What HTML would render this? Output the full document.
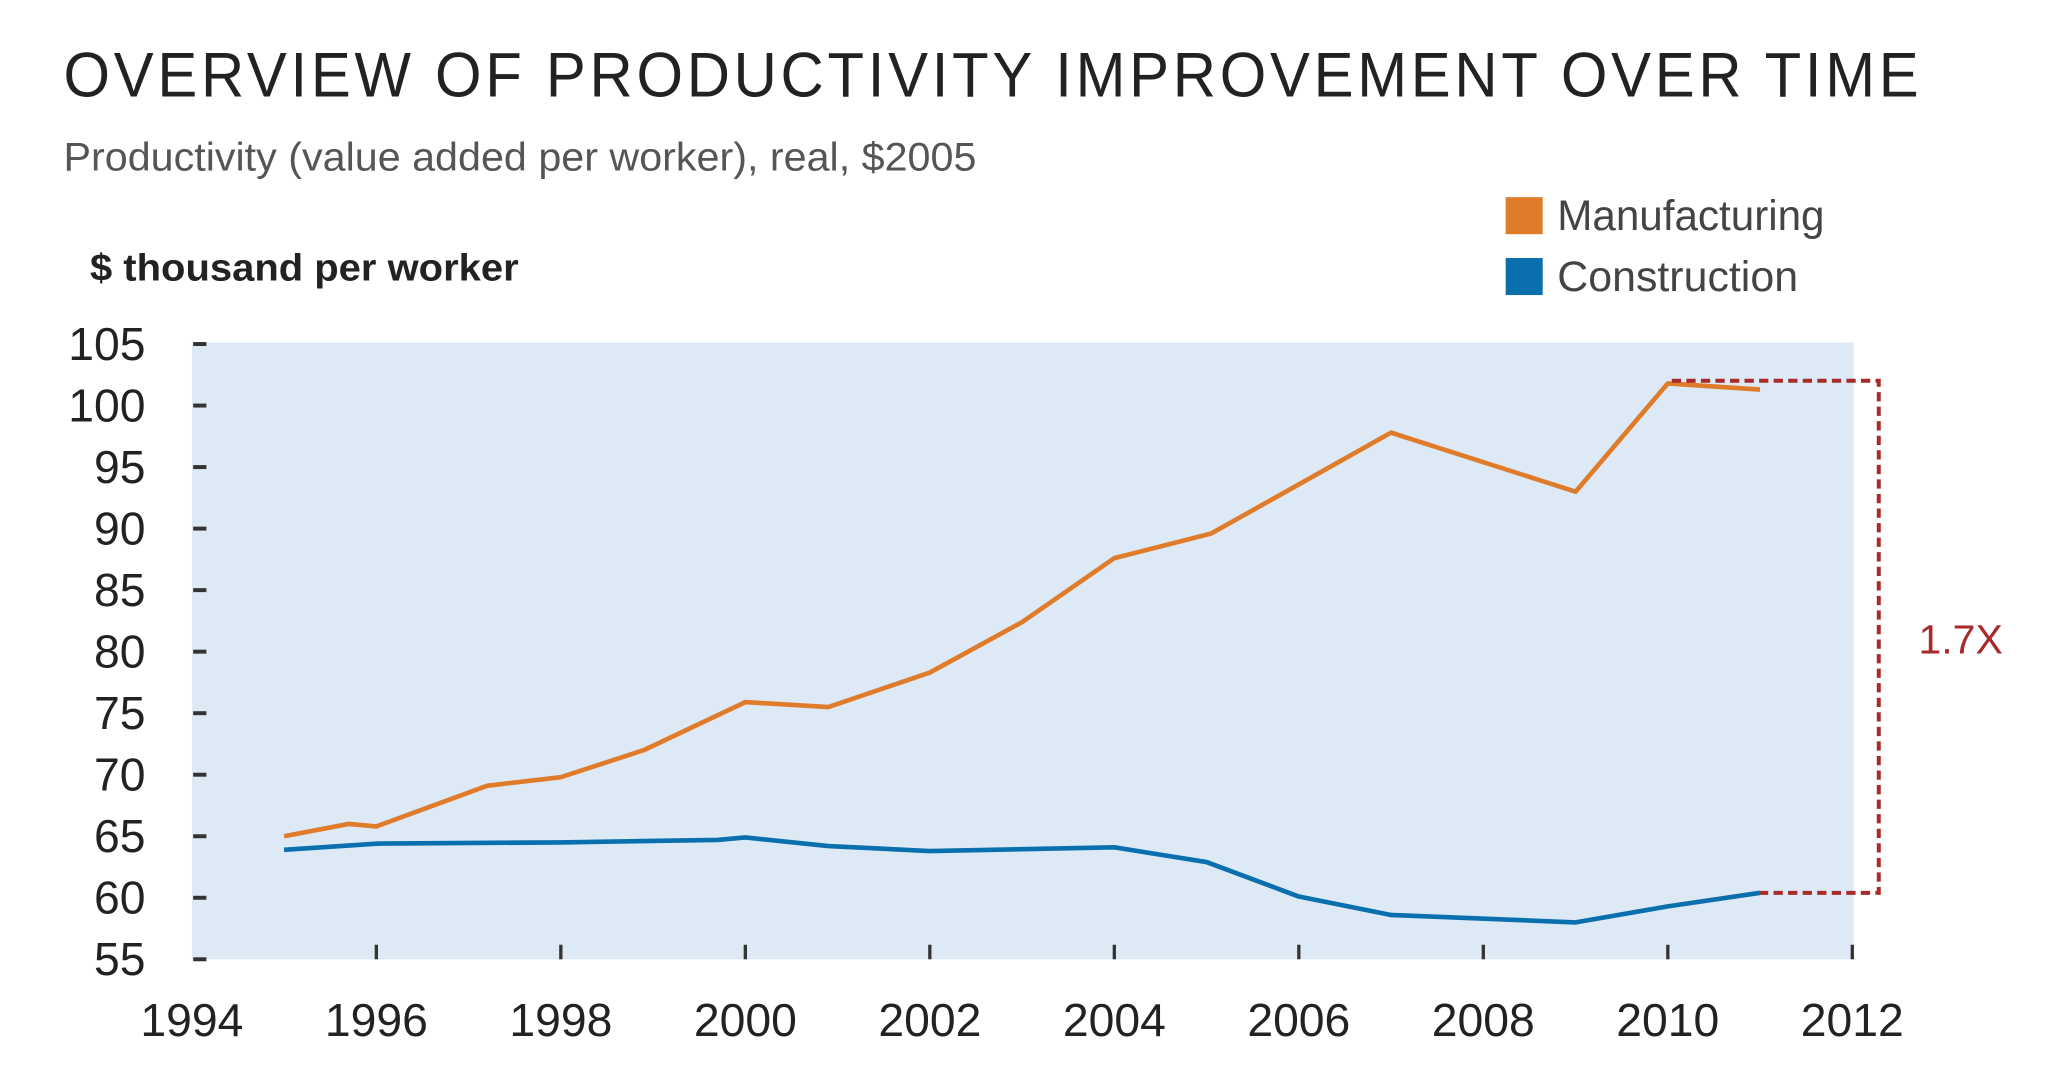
<!DOCTYPE html>
<html><head><meta charset="utf-8"><style>
html,body{margin:0;padding:0;background:#fff;}
svg{display:block;font-family:"Liberation Sans",sans-serif;}
</style></head><body>
<svg id="chart" width="2064" height="1085" viewBox="0 0 1560 820" preserveAspectRatio="none" xmlns="http://www.w3.org/2000/svg">
<text x="48" y="73" font-size="48" fill="#222" letter-spacing="3" textLength="1405" lengthAdjust="spacingAndGlyphs">OVERVIEW OF PRODUCTIVITY IMPROVEMENT OVER TIME</text>
<text x="48" y="129" font-size="30" fill="#555" textLength="690" lengthAdjust="spacingAndGlyphs">Productivity (value added per worker), real, $2005</text>
<text x="68" y="212" font-size="29" font-weight="bold" fill="#222" textLength="324" lengthAdjust="spacingAndGlyphs">$ thousand per worker</text>
<g>
<rect x="1138" y="149" width="28" height="28" fill="#e07b2a"/>
<text x="1177" y="174" font-size="32" fill="#444" textLength="202" lengthAdjust="spacingAndGlyphs">Manufacturing</text>
<rect x="1138" y="195" width="28" height="28" fill="#0a6fad"/>
<text x="1177" y="220" font-size="32" fill="#444" textLength="182" lengthAdjust="spacingAndGlyphs">Construction</text>
</g>
<rect x="145" y="259" width="1256" height="466" fill="#dde9f5"/>
<g id="axes"></g>
<g id="series"></g>
<g stroke="#a82a2a" stroke-width="3" stroke-dasharray="7,4" fill="none">
<polyline id="bracket" points=""/>
</g>
<text x="1450" y="494" font-size="31" fill="#a82a2a">1.7X</text>
</svg>
<script>
const mfgYears=[1995,1995.7,1996,1997.2,1998,1998.9,2000,2000.9,2002,2003,2004,2005.05,2007,2009,2010,2011];
const mfgValues=[65.0,66.0,65.8,69.1,69.8,72.0,75.9,75.5,78.3,82.4,87.6,89.6,97.8,93.0,101.8,101.3];
const conYears=[1995,1996,1998,1999.7,2000,2000.9,2002,2004,2005,2006,2007,2009,2010,2011];
const conValues=[63.9,64.4,64.5,64.7,64.9,64.2,63.8,64.1,62.9,60.1,58.6,58.0,59.3,60.4];
const yTicks=[55,60,65,70,75,80,85,90,95,100,105];
const xTicks=[1994,1996,1998,2000,2002,2004,2006,2008,2010,2012];
const NS="http://www.w3.org/2000/svg";
const X=v=>145+(v-1994)*(1400-145)/18;
const Y=v=>725-(v-55)*(725-260)/50;
const axes=document.getElementById('axes'),series=document.getElementById('series');
function mk(t,a,p){const e=document.createElementNS(NS,t);for(const k in a)e.setAttribute(k,a[k]);p.appendChild(e);return e;}
yTicks.forEach(v=>{
 const t=mk('line',{x1:146,x2:156,y1:Y(v),y2:Y(v),stroke:'#333','stroke-width':3},axes);
 
 
 const l=mk('text',{x:110,y:Y(v)+12,'font-size':35,'text-anchor':'end',fill:'#222'},axes);
 l.textContent=v;
 
 
});
xTicks.forEach(v=>{
 if(v>1994){const t=mk('line',{x1:X(v),x2:X(v),y1:714,y2:725,stroke:'#333','stroke-width':2.5},axes);
 
 }
 const l=mk('text',{x:X(v),y:783,'font-size':35,'text-anchor':'middle',fill:'#222'},axes);
 l.textContent=v;
 
 
});
function line(xs,ys,color,name){
 const p=mk('polyline',{points:xs.map((x,i)=>X(x)+','+Y(ys[i])).join(' '),fill:'none',stroke:color,'stroke-width':3.5,'stroke-linejoin':'round'},series);
 
 
}
line(mfgYears,mfgValues,'#e07b2a','manufacturing-line');
line(conYears,conValues,'#0a6fad','construction-line');
const topY=Y(Math.max(...mfgValues.slice(-2)))-2;
const botY=Y(conValues[conValues.length-1]);
const bx=1420;
document.getElementById('bracket').setAttribute('points',
 `${X(mfgYears[mfgYears.length-2])+3},${topY} ${bx},${topY} ${bx},${botY} ${X(conYears[conYears.length-1])},${botY}`);
</script>
</body></html>
